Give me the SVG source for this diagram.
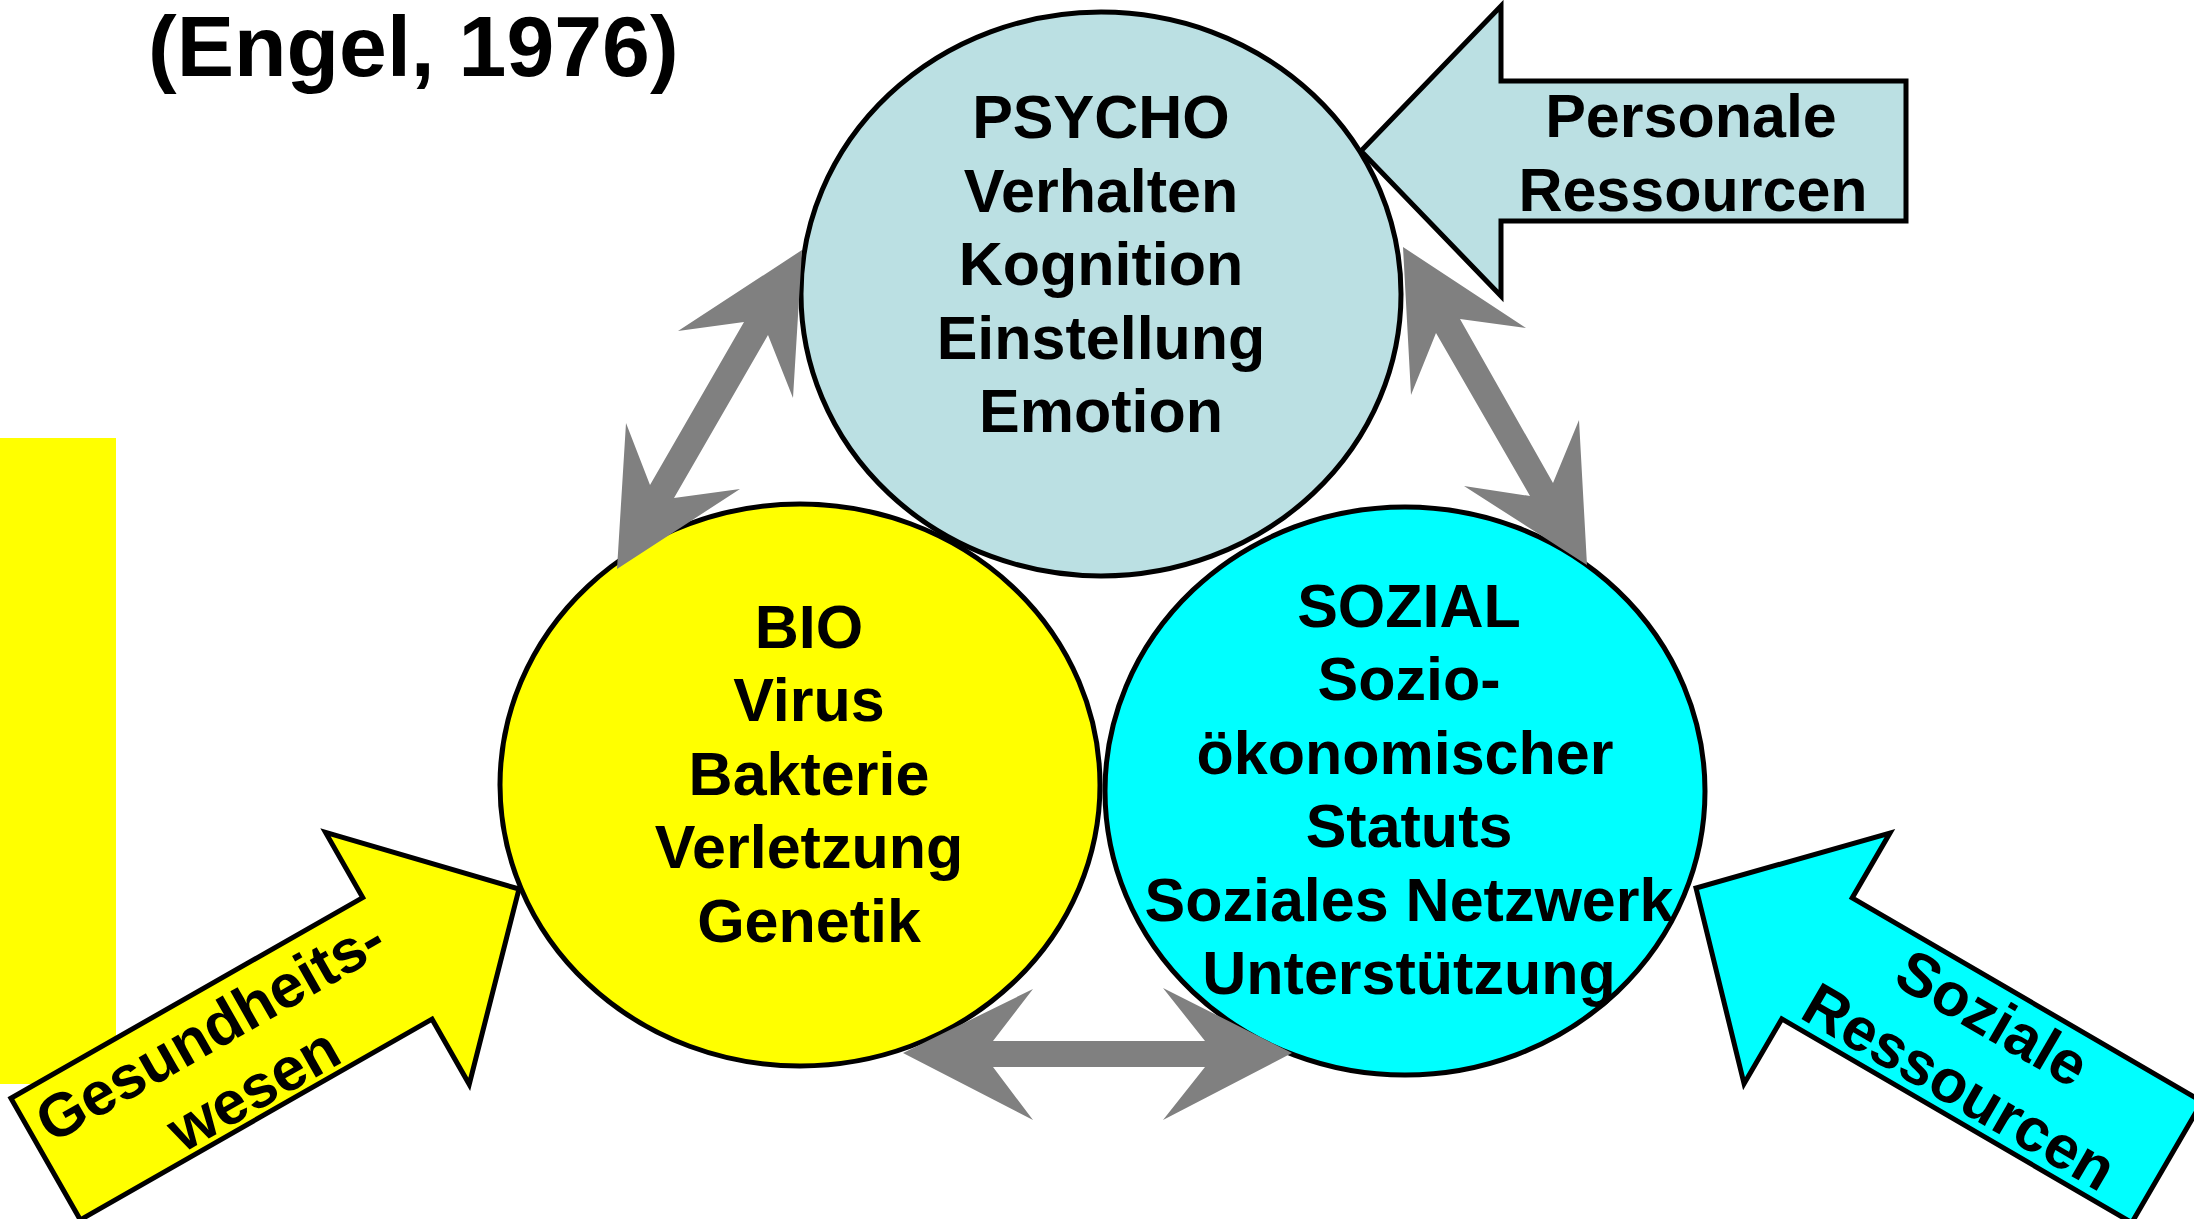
<svg xmlns="http://www.w3.org/2000/svg" xmlns:xlink="http://www.w3.org/1999/xlink" width="2194" height="1219" viewBox="0 0 2194 1219">
  <style>
    .lbl { font-family: "Liberation Sans", Arial, sans-serif; font-weight: bold; font-size: 61px; fill: #000; text-anchor: middle; }
    .title { font-family: "Liberation Sans", Arial, sans-serif; font-weight: bold; font-size: 86px; fill: #000; }
    .node { stroke: #000; stroke-width: 5; }
    .blk { stroke: #000; stroke-width: 5; stroke-linejoin: miter; }
    .conn { fill: #808080; stroke: none; }
  </style>
  <defs>
    <path id="blockArrow" d="M0,0 L-140,-145 L-140,-70 L-545,-70 L-545,70 L-140,70 L-140,145 Z"/>
  </defs>
  <rect width="2194" height="1219" fill="#fff"/>

  <text class="title" x="148" y="76">(Engel, 1976)</text>

  <rect id="yellow-bar" x="0" y="438" width="116" height="646" fill="#FFFF00"/>

  <g id="node-bio">
    <ellipse class="node" cx="800" cy="785" rx="300" ry="281" fill="#FFFF00"/>
    <text class="lbl" x="809" y="648">BIO</text>
    <text class="lbl" x="809" y="721">Virus</text>
    <text class="lbl" x="809" y="795">Bakterie</text>
    <text class="lbl" x="809" y="868">Verletzung</text>
    <text class="lbl" x="809" y="942">Genetik</text>
  </g>

  <g id="node-sozial">
    <ellipse class="node" cx="1405" cy="791" rx="300" ry="284" fill="#00FFFF"/>
    <text class="lbl" x="1409" y="627">SOZIAL</text>
    <text class="lbl" x="1409" y="700">Sozio-</text>
    <text class="lbl" x="1405" y="774">ökonomischer</text>
    <text class="lbl" x="1409" y="847">Statuts</text>
    <text class="lbl" x="1409" y="921">Soziales Netzwerk</text>
    <text class="lbl" x="1409" y="994">Unterstützung</text>
  </g>

  <g id="node-psycho">
    <ellipse class="node" cx="1101" cy="294" rx="300" ry="282" fill="#BBE0E3"/>
    <text class="lbl" x="1101" y="138">PSYCHO</text>
    <text class="lbl" x="1101" y="212">Verhalten</text>
    <text class="lbl" x="1101" y="285">Kognition</text>
    <text class="lbl" x="1101" y="359">Einstellung</text>
    <text class="lbl" x="1101" y="432">Emotion</text>
  </g>

  <g id="connectors">
    <polygon class="conn" points="802,250 793,398 768,335 674,498 740,489 617,569 626,423 650,485 744,322 678,331"/>
    <polygon class="conn" points="1403,247 1526,328 1460,319 1553,483 1579,420 1587,565 1464,486 1530,496 1436,333 1411,395"/>
    <polygon class="conn" points="903,1053 1033,989 993,1041 1205,1041 1163,988 1292,1053 1163,1120 1205,1067 993,1067 1033,1120"/>
  </g>

  <g id="arrow-personale">
    <use xlink:href="#blockArrow" class="blk" fill="#BBE0E3" transform="translate(1361,151) rotate(180)"/>
    <text class="lbl" x="1691" y="137">Personale</text>
    <text class="lbl" x="1693" y="211">Ressourcen</text>
  </g>

  <g id="arrow-gesundheit">
    <use xlink:href="#blockArrow" class="blk" fill="#FFFF00" transform="translate(519,889) rotate(-29.7)"/>
    <g transform="translate(519,889) rotate(-29.7)">
      <text class="lbl" x="-338" y="-10">Gesundheits-</text>
      <text class="lbl" x="-330" y="63">wesen</text>
    </g>
  </g>

  <g id="arrow-soziale">
    <use xlink:href="#blockArrow" class="blk" fill="#00FFFF" transform="translate(1696,888) rotate(210.2)"/>
    <g transform="translate(1974,1050) rotate(30.2)">
      <text class="lbl" x="0" y="-16">Soziale</text>
      <text class="lbl" x="6" y="60">Ressourcen</text>
    </g>
  </g>
</svg>
